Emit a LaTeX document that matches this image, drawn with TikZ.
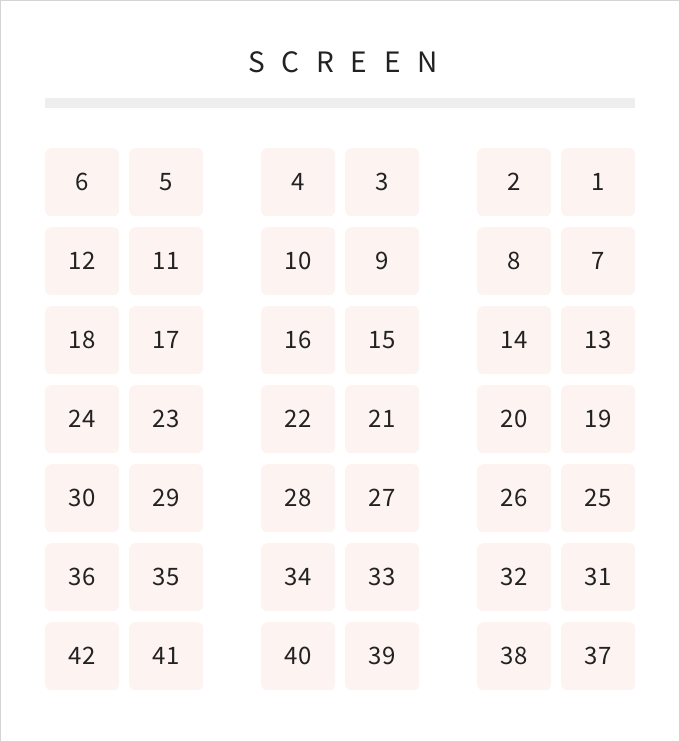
\documentclass[tikz,border=0pt]{standalone}
\usepackage{fontspec}
\setmainfont{Noto Sans CJK KR}
\newfontfamily\screenfont[LetterSpace=60]{Noto Sans CJK KR}
\definecolor{seatfill}{HTML}{FDF3F1}
\definecolor{barcol}{HTML}{EEEEEE}
\definecolor{framecol}{HTML}{D4D4D4}
\definecolor{txt}{HTML}{222222}
\begin{document}
\begin{tikzpicture}[x=1pt,y=-1pt,
  seat/.style={fill=seatfill,draw=none,rounded corners=6pt,minimum width=74pt,minimum height=68pt,inner sep=0pt,font=\fontsize{24}{24}\selectfont,text=txt,anchor=north west},
  barstyle/.style={fill=barcol,draw=none}]
\useasboundingbox (0,0) rectangle (680,742);
\draw[framecol,line width=1pt] (0.5,0.5) rectangle (679.5,741.5);
\node[text=txt,font=\screenfont\fontsize{28}{28}\selectfont,inner sep=0pt] (screen) at (343,62) {SCREEN};
\fill[barcol] (45,98) rectangle (635,107.5);
\foreach \r in {0,...,6}{
  \foreach \c/\x in {0/45,1/129,2/261,3/345,4/477,5/561}{
    \pgfmathtruncatemacro{\n}{6*\r+6-\c}
    \node[seat] (s\n) at (\x,148+79*\r) {\n};
  }
}
\end{tikzpicture}
\end{document}
